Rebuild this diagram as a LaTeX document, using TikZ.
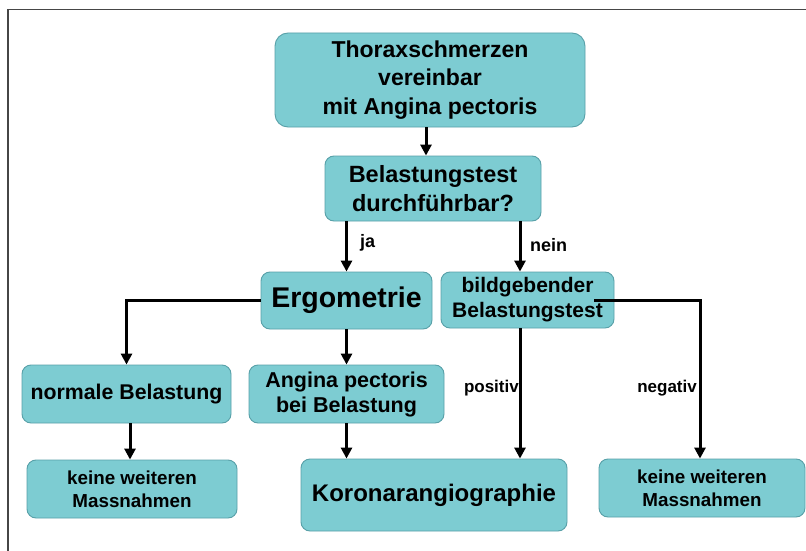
\documentclass[tikz,border=0pt]{standalone}
\usepackage{fontspec}
\setmainfont{Liberation Sans}
\usetikzlibrary{arrows.meta,calc}
\definecolor{boxfill}{RGB}{125,204,210}
\definecolor{boxline}{RGB}{88,160,168}
\definecolor{framec}{RGB}{70,70,70}
\tikzset{
  box/.style={draw=boxline, line width=0.9pt, fill=boxfill, rounded corners=9pt,
    align=center, inner sep=0pt, font=\bfseries},
  conn/.style={line width=3pt, -{Triangle[length=11pt,width=11pt]}},
  lab/.style={font=\bfseries\fontsize{18}{21}\selectfont, inner sep=0pt},
}
\begin{document}
\begin{tikzpicture}[x=1pt,y=-1pt]
\useasboundingbox (0,0) rectangle (806,551);
\fill[white] (0,0) rectangle (806,551);
\draw[framec, line width=1.8pt] (8,560) -- (8,9.5) -- (815,9.5);

\node[box, rounded corners=13pt, minimum width=310pt, minimum height=94pt,
  font=\bfseries\fontsize{23}{28.5}\selectfont] (top) at (430,80)
  {Thoraxschmerzen\\vereinbar\\mit Angina pectoris};
\node[box, minimum width=216pt, minimum height=65pt,
  font=\bfseries\fontsize{23.5}{28.5}\selectfont] (bel) at (433,188.5)
  {Belastungstest\\durchführbar?};
\node[box, minimum width=171pt, minimum height=57pt,
  font=\bfseries\fontsize{28.5}{32}\selectfont] (erg) at (346.5,300.5)
  {Ergometrie};
\node[box, minimum width=173pt, minimum height=56pt,
  font=\bfseries\fontsize{21}{25}\selectfont] (bild) at (527.5,300)
  {bildgebender\\Belastungstest};
\node[box, minimum width=209pt, minimum height=58pt,
  font=\bfseries\fontsize{21.3}{25}\selectfont] (norm) at (126.5,394)
  {normale Belastung};
\node[box, minimum width=195pt, minimum height=58pt,
  font=\bfseries\fontsize{21.5}{25}\selectfont] (ang) at (346.5,394)
  {Angina pectoris\\bei Belastung};
\node[box, minimum width=210pt, minimum height=58pt,
  font=\bfseries\fontsize{18.8}{23}\selectfont] (keinL) at (132,489)
  {keine weiteren\\Massnahmen};
\node[box, minimum width=266pt, minimum height=72pt,
  font=\bfseries\fontsize{24}{28}\selectfont] (koro) at (434,495)
  {Koronarangiographie};
\node[box, minimum width=206pt, minimum height=58pt,
  font=\bfseries\fontsize{18.8}{23}\selectfont] (keinR) at (702,488)
  {keine weiteren\\Massnahmen};

% connectors
\draw[conn] (top.south -| 426,0) -- (bel.north -| 426,0);
\draw[conn] (bel.south -| erg.north) -- (erg.north);
\draw[conn] (bel.south -| 520,0) -- (bild.north -| 520,0);
\coordinate (ergL) at (erg.west);
\draw[conn] (ergL) -| (norm.north);
\draw[conn] (erg.south) -- (ang.north);
\draw[conn] (norm.south -| 130,0) -- (keinL.north -| 130,0);
\draw[conn] (ang.south) -- (koro.north -| ang.south);
\draw[conn] (bild.south -| 520,0) -- (koro.north -| 520,0);
\coordinate (bildR) at ($(bild.east)+(-20,0)$);
\draw[conn] (bildR) -| (keinR.north -| 700,0);

% labels
\node[lab, anchor=west] (lja) at (360,243) {ja};
\node[lab, anchor=west] (lnein) at (530,245) {nein};
\node[lab, font=\bfseries\fontsize{17}{20}\selectfont, anchor=east] (lpos) at (519,388) {positiv};
\node[lab, font=\bfseries\fontsize{17}{20}\selectfont, anchor=east] (lneg) at (697,388) {negativ};
\end{tikzpicture}
\end{document}
